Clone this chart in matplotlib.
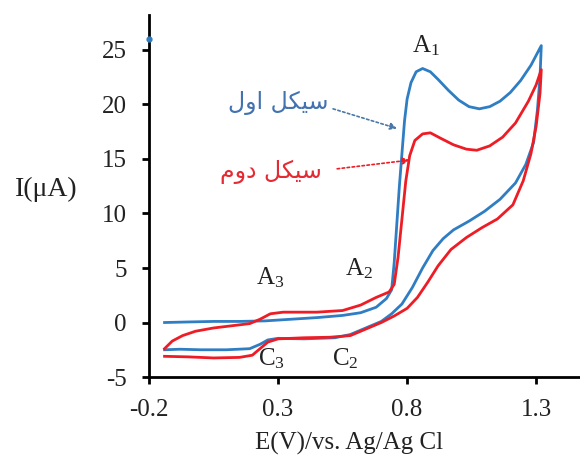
import matplotlib
matplotlib.use("Agg")
import matplotlib.pyplot as plt

# first cycle (blue): forward scan then reverse scan
blue_E = [-0.14, -0.05, 0.05, 0.15, 0.25, 0.35, 0.45, 0.55, 0.62, 0.68, 0.72, 0.74,
          0.75, 0.76, 0.77, 0.78, 0.79, 0.80, 0.815, 0.835, 0.86, 0.89, 0.92, 0.96,
          1.00, 1.04, 1.08, 1.12, 1.16, 1.20, 1.24, 1.28, 1.32,
          1.315, 1.305, 1.29, 1.26, 1.22, 1.16, 1.10, 1.04, 0.98, 0.94, 0.90, 0.86,
          0.82, 0.78, 0.74, 0.70, 0.65, 0.58, 0.52, 0.40, 0.30, 0.26, 0.23, 0.19,
          0.10, 0.00, -0.08, -0.14]
blue_I = [0.0, 0.05, 0.1, 0.1, 0.15, 0.3, 0.45, 0.65, 0.9, 1.4, 2.2, 3.0,
          5.5, 9.0, 12.5, 15.5, 18.5, 20.5, 22.0, 23.0, 23.3, 23.0, 22.3, 21.3,
          20.4, 19.8, 19.6, 19.8, 20.3, 21.1, 22.2, 23.6, 25.4,
          22.5, 19.5, 16.5, 14.5, 12.8, 11.3, 10.2, 9.3, 8.5, 7.7, 6.6, 5.0,
          3.2, 1.7, 0.8, 0.1, -0.4, -1.1, -1.4, -1.5, -1.45, -1.6, -2.0, -2.4,
          -2.5, -2.5, -2.45, -2.5]

# second cycle (red)
red_E = [-0.14, -0.11, -0.07, -0.02, 0.05, 0.12, 0.19, 0.23, 0.27, 0.32, 0.45, 0.55,
         0.62, 0.68, 0.73, 0.75, 0.765, 0.78, 0.795, 0.81, 0.83, 0.86, 0.89, 0.93,
         0.98, 1.03, 1.07, 1.12, 1.17, 1.22, 1.27, 1.30, 1.32,
         1.315, 1.30, 1.28, 1.25, 1.21, 1.15, 1.09, 1.03, 0.97, 0.92, 0.88, 0.84,
         0.80, 0.75, 0.70, 0.64, 0.58, 0.50, 0.40, 0.30, 0.26, 0.23, 0.20, 0.15,
         0.05, -0.05, -0.14]
red_I = [-2.4, -1.7, -1.2, -0.8, -0.5, -0.3, -0.1, 0.3, 0.8, 0.95, 0.95, 1.1,
         1.6, 2.3, 2.8, 3.5, 6.0, 9.5, 13.0, 15.3, 16.7, 17.3, 17.4, 16.9,
         16.3, 15.9, 15.8, 16.2, 17.0, 18.3, 20.3, 21.8, 23.2,
         21.0, 18.0, 15.5, 13.0, 10.8, 9.5, 8.7, 7.8, 6.7, 5.2, 3.7, 2.3,
         1.3, 0.6, 0.0, -0.6, -1.2, -1.35, -1.4, -1.5, -1.8, -2.4, -3.0, -3.2,
         -3.25, -3.15, -3.1]

x_ticks = [-0.2, 0.3, 0.8, 1.3]
y_ticks = [-5, 0, 5, 10, 15, 20, 25]

# peak labels: (letter, subscript, E, I)
peaks = [("A", "1", 0.875, 25.4), ("A", "2", 0.615, 4.9), ("A", "3", 0.269, 4.1),
         ("C", "3", 0.275, -3.3), ("C", "2", 0.56, -3.3)]

# Persian labels, written in presentation forms (visual order)
label_first = "\ufedd\ufeed\ufe8d \ufede\ufb91\ufbff\ufeb3"   # سیکل اول
label_second = "\ufee1\ufeed\ufea9 \ufede\ufb91\ufbff\ufeb3"  # سیکل دوم

BLUE = "#2f7dc2"
RED = "#ee1c25"
SERIF = "Liberation Serif"

plt.rcParams["mathtext.fontset"] = "custom"
plt.rcParams["mathtext.rm"] = SERIF


def main():
    fig = plt.figure(figsize=(5.8, 4.57), dpi=100)
    ax = fig.add_axes([0.257, 0.175, 0.743, 0.792])

    ax.plot(blue_E, blue_I, color=BLUE, lw=2.0, solid_joinstyle="round")
    ax.plot(red_E, red_I, color=RED, lw=2.0, solid_joinstyle="round")

    ax.set_xlim(-0.2, 1.47)
    ax.set_ylim(-5, 28.2)
    ax.set_xticks(x_ticks)
    ax.set_xticklabels([str(v) for v in x_ticks])
    ax.set_yticks(y_ticks)
    ax.set_yticklabels([str(v) for v in y_ticks])

    for s in ["top", "right"]:
        ax.spines[s].set_visible(False)
    for s in ["left", "bottom"]:
        ax.spines[s].set_linewidth(2.0)

    ax.tick_params(direction="out", length=5, width=2, labelsize=18)
    ax.tick_params(axis="x", pad=11)
    ax.tick_params(axis="y", pad=11)
    for lab in ax.get_xticklabels() + ax.get_yticklabels():
        lab.set_family(SERIF)
        lab.set_color("#222222")

    ax.set_xlabel("E(V)/vs. Ag/Ag Cl", family=SERIF, fontsize=18, color="#222222")
    ax.xaxis.set_label_coords(0.464, -0.2)
    ax.xaxis.label.set_verticalalignment("baseline")
    ax.set_ylabel("I(\u03bcA)", family=SERIF, fontsize=20, rotation=0, color="#222222",
                  va="center", ha="center")
    ax.yaxis.set_label_coords(-0.239, 0.517)

    for letter, sub, e, i in peaks:
        ax.text(e, i, "$\\mathregular{%s_{%s}}$" % (letter, sub), family=SERIF,
                fontsize=18, ha="center", va="center", color="#222222")

    # small blue mark on the axis
    ax.plot([-0.2], [26.0], marker="o", ms=3.5, color=BLUE, clip_on=False, zorder=5)

    ax.text(0.30, 20.1, label_first, family="DejaVu Sans", fontsize=17,
            color="#4272b0", ha="center", va="center")
    ax.text(0.273, 13.8, label_second, family="DejaVu Sans", fontsize=17,
            color="#e42a33", ha="center", va="center")
    ax.annotate("", xy=(0.761, 17.8), xytext=(0.513, 19.6),
                arrowprops=dict(arrowstyle="-|>", color="#4a78a8", lw=1.2,
                                linestyle=(0, (1.5, 1.5)), mutation_scale=10,
                                shrinkA=0, shrinkB=0))
    ax.annotate("", xy=(0.81, 14.9), xytext=(0.529, 14.1),
                arrowprops=dict(arrowstyle="-|>", color=RED, lw=1.2,
                                linestyle=(0, (1.5, 1.5)), mutation_scale=10,
                                shrinkA=0, shrinkB=0))

    fig.savefig("out.png", dpi=100)


if __name__ == "__main__":
    main()
